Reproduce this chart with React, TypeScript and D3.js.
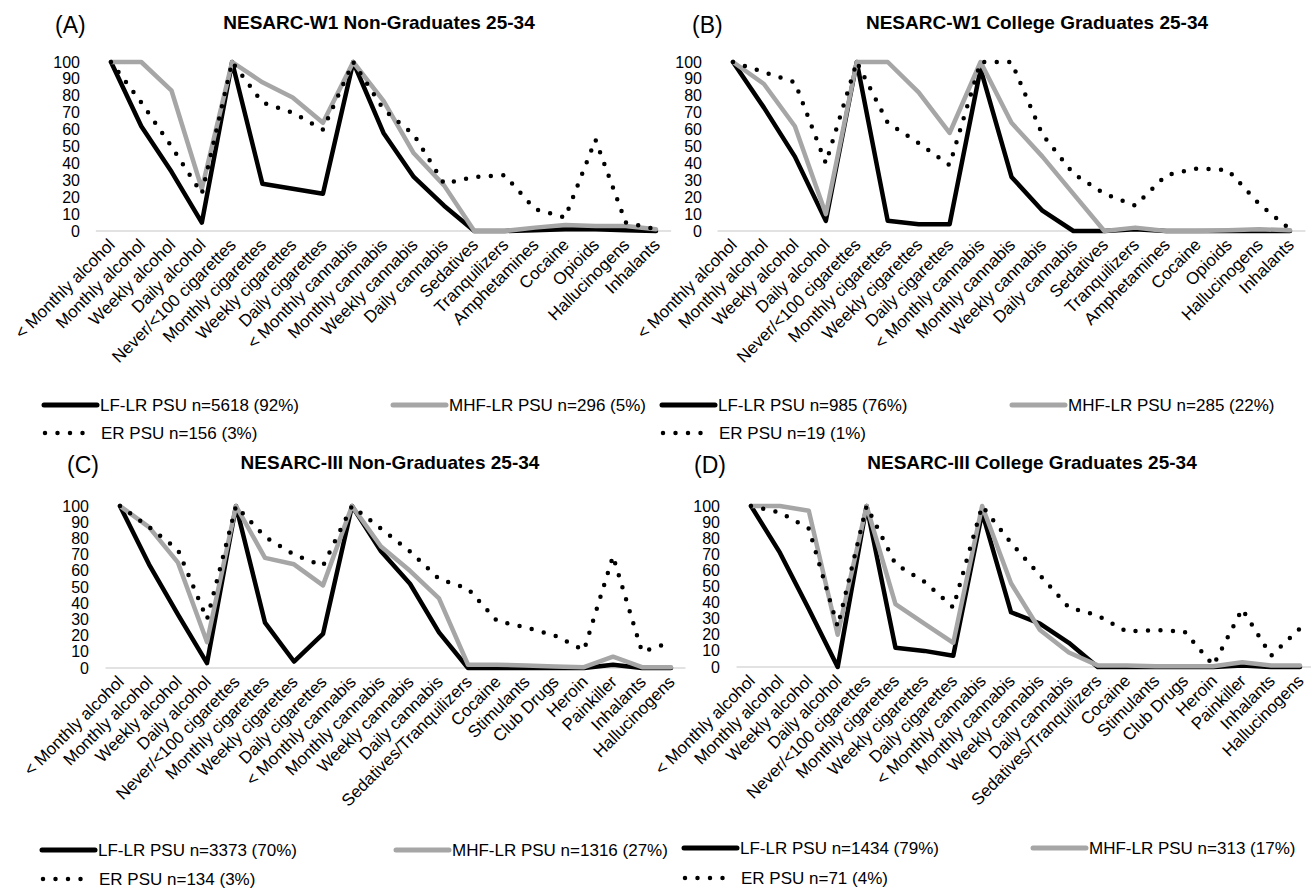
import * as d3 from "d3";

// categories
const catsW1 = [
  "< Monthly alcohol", "Monthly alcohol", "Weekly alcohol", "Daily alcohol",
  "Never/<100 cigarettes", "Monthly cigarettes", "Weekly cigarettes", "Daily cigarettes",
  "< Monthly cannabis", "Monthly cannabis", "Weekly cannabis", "Daily cannabis",
  "Sedatives", "Tranquilizers", "Amphetamines", "Cocaine", "Opioids", "Hallucinogens", "Inhalants",
];
const catsIII = [
  "< Monthly alcohol", "Monthly alcohol", "Weekly alcohol", "Daily alcohol",
  "Never/<100 cigarettes", "Monthly cigarettes", "Weekly cigarettes", "Daily cigarettes",
  "< Monthly cannabis", "Monthly cannabis", "Weekly cannabis", "Daily cannabis",
  "Sedatives/Tranquilizers", "Cocaine", "Stimulants", "Club Drugs", "Heroin", "Painkiller", "Inhalants", "Hallucinogens",
];

// (A) NESARC-W1 non-graduates
const lfA = [100, 62, 35, 5, 100, 28, 25, 22, 100, 58, 32, 15, 0, 0, 0.5, 1, 1, 0.5, 0];
const mhfA = [100, 100, 83, 25, 100, 88, 79, 64, 100, 77, 46, 27, 0, 0, 2, 3.5, 3, 3, 1];
const erA = [100, 76, 50, 22, 100, 76, 70, 60, 100, 72, 57, 28, 32, 33, 13, 8, 54, 5, 1];
// (B) NESARC-W1 college graduates
const lfB = [100, 73, 44, 6, 100, 6, 4, 4, 96, 32, 12, 0, 0, 1, 0, 0, 0, 0, 0];
const mhfB = [100, 87, 62, 10, 100, 100, 82, 58, 100, 64, 44, 22, 0, 2, 0, 0, 0.5, 1, 0.5];
const erB = [100, 94, 88, 40, 100, 64, 52, 39, 100, 100, 57, 34, 22, 15, 33, 37, 36, 16, 1];
// (C) NESARC-III non-graduates
const lfC = [100, 64, 33, 3, 100, 28, 4, 21, 100, 72, 52, 22, 0, 0, 0, 0, 0, 2, 0, 0];
const mhfC = [100, 87, 65, 16, 100, 68, 64, 51, 100, 75, 60, 43, 2, 2, 1.5, 1, 0.5, 7, 0.5, 0.5];
const erC = [100, 87, 73, 30, 100, 81, 70, 63, 100, 86, 72, 55, 49, 29, 25, 20, 11, 69, 10, 16];
// (D) NESARC-III college graduates
const lfD = [100, 71, 36, 0, 100, 12, 10, 7, 96, 34, 27, 15, 0, 0, 0, 0, 0, 1, 0, 0];
const mhfD = [100, 100, 97, 20, 100, 39, 27, 15, 100, 52, 23, 9, 1, 1, 0.5, 0.5, 0.5, 3, 1, 1];
const erD = [100, 96, 86, 25, 100, 64, 53, 37, 100, 77, 57, 37, 32, 22, 23, 22, 1, 36, 7, 24];

const legendA = ["LF-LR PSU n=5618 (92%)", "MHF-LR PSU n=296 (5%)", "ER PSU n=156 (3%)"];
const legendB = ["LF-LR PSU n=985 (76%)", "MHF-LR PSU n=285 (22%)", "ER PSU n=19 (1%)"];
const legendC = ["LF-LR PSU n=3373 (70%)", "MHF-LR PSU n=1316 (27%)", "ER PSU n=134 (3%)"];
const legendD = ["LF-LR PSU n=1434 (79%)", "MHF-LR PSU n=313 (17%)", "ER PSU n=71 (4%)"];

const yTicks = [0, 10, 20, 30, 40, 50, 60, 70, 80, 90, 100];

const FONT = "'Liberation Sans', Arial, sans-serif";

const seriesStyle = [
  { stroke: "#000000", width: 4.5, dash: undefined },
  { stroke: "#a6a6a6", width: 4.5, dash: undefined },
  { stroke: "#000000", width: 4.5, dash: "0 12.5" },
];

const panels = [
  {
    letter: "(A)", title: "NESARC-W1 Non-Graduates 25-34", cats: catsW1, series: [lfA, mhfA, erA], legend: legendA,
    x0: 111, x1: 656, yTop: 62, yBot: 231, titleX: 379, titleY: 22, letterX: 55, letterY: 25,
    legX1: 44, legX2: 393, legY1: 405, legY2: 433,
  },
  {
    letter: "(B)", title: "NESARC-W1 College Graduates 25-34", cats: catsW1, series: [lfB, mhfB, erB], legend: legendB,
    x0: 733, x1: 1290, yTop: 62, yBot: 231, titleX: 1037, titleY: 22, letterX: 692, letterY: 25,
    legX1: 662, legX2: 1012, legY1: 405, legY2: 433,
  },
  {
    letter: "(C)", title: "NESARC-III Non-Graduates 25-34", cats: catsIII, series: [lfC, mhfC, erC], legend: legendC,
    x0: 120, x1: 671, yTop: 506, yBot: 668, titleX: 390, titleY: 462, letterX: 67, letterY: 465,
    legX1: 42, legX2: 396, legY1: 850, legY2: 879,
  },
  {
    letter: "(D)", title: "NESARC-III College Graduates 25-34", cats: catsIII, series: [lfD, mhfD, erD], legend: legendD,
    x0: 751, x1: 1300, yTop: 506, yBot: 667, titleX: 1032, titleY: 462, letterX: 694, letterY: 465,
    legX1: 684, legX2: 1033, legY1: 848, legY2: 878,
  },
];

function Panel({ p }) {
  const x = d3.scalePoint().domain(p.cats).range([p.x0, p.x1]);
  const y = d3.scaleLinear().domain([0, 100]).range([p.yBot, p.yTop]);
  const step = x.step();
  const line = d3
    .line<number>()
    .x((d, i) => x(p.cats[i]))
    .y((d) => y(d));

  return (
    <g>
      <text x={p.letterX} y={p.letterY} fontSize={23} dominantBaseline="central">{p.letter}</text>
      <text x={p.titleX} y={p.titleY} fontSize={19} fontWeight="bold" textAnchor="middle" dominantBaseline="central">
        {p.title}
      </text>

      {yTicks.map((t) => (
        <text key={t} x={p.x0 - 31} y={y(t)} fontSize={16} textAnchor="end" dominantBaseline="central">
          {t}
        </text>
      ))}

      <line x1={p.x0 - step / 2} x2={p.x1 + step / 2} y1={y(0)} y2={y(0)} stroke="#d9d9d9" strokeWidth={1.5} />

      {p.cats.map((c) => (
        <text
          key={c}
          transform={`translate(${x(c) + 1},${p.yBot + 11}) rotate(-45)`}
          fontSize={17}
          textAnchor="end"
          dominantBaseline="central"
        >
          {c}
        </text>
      ))}

      {p.series.map((s, i) => (
        <path
          key={i}
          d={line(s)}
          fill="none"
          stroke={seriesStyle[i].stroke}
          strokeWidth={seriesStyle[i].width}
          strokeDasharray={seriesStyle[i].dash}
          strokeLinecap="round"
          strokeLinejoin="round"
        />
      ))}

      {/* legend */}
      <line x1={p.legX1} x2={p.legX1 + 53} y1={p.legY1} y2={p.legY1} stroke="#000" strokeWidth={5} strokeLinecap="round" />
      <text x={p.legX1 + 56} y={p.legY1} fontSize={17} dominantBaseline="central">{p.legend[0]}</text>
      <line x1={p.legX2} x2={p.legX2 + 53} y1={p.legY1} y2={p.legY1} stroke="#a6a6a6" strokeWidth={5} strokeLinecap="round" />
      <text x={p.legX2 + 56} y={p.legY1} fontSize={17} dominantBaseline="central">{p.legend[1]}</text>
      <line
        x1={p.legX1 + 1} x2={p.legX1 + 42} y1={p.legY2} y2={p.legY2}
        stroke="#000" strokeWidth={4.5} strokeDasharray="0 12.5" strokeLinecap="round"
      />
      <text x={p.legX1 + 57} y={p.legY2} fontSize={17} dominantBaseline="central">{p.legend[2]}</text>
    </g>
  );
}

export default function App() {
  return (
    <div style={{ position: "absolute", left: 0, top: 0 }}>
      <svg width={1311} height={890} style={{ display: "block", background: "#fff" }} fontFamily={FONT}>
        {panels.map((p) => (
          <Panel key={p.letter} p={p} />
        ))}
      </svg>
    </div>
  );
}
